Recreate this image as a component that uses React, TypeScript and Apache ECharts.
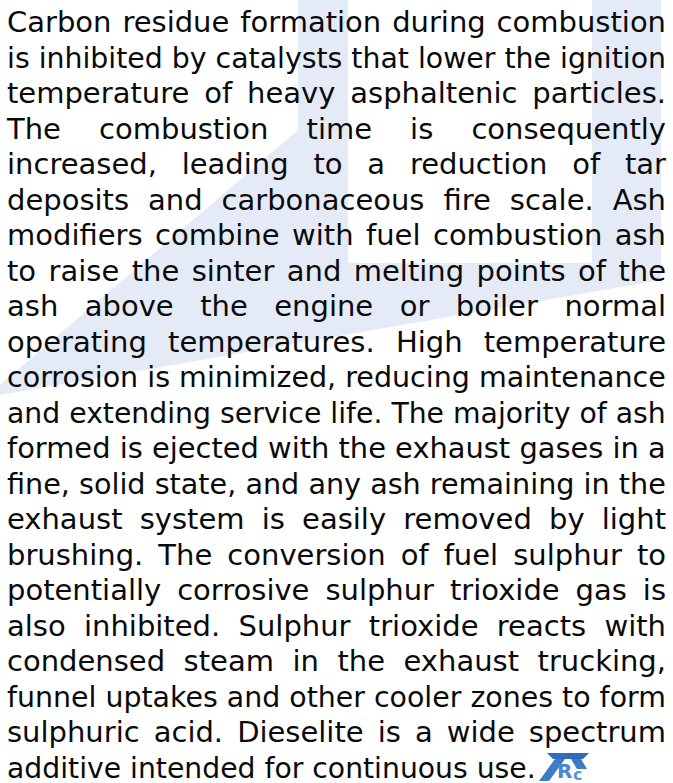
import React, { useEffect, useRef } from "react";
import * as echarts from "echarts";

const LINES: string[] = [
  "Carbon residue formation during combustion",
  "is inhibited by catalysts that lower the ignition",
  "temperature of heavy asphaltenic particles.",
  "The combustion time is consequently",
  "increased, leading to a reduction of tar",
  "deposits and carbonaceous fire scale. Ash",
  "modifiers combine with fuel combustion ash",
  "to raise the sinter and melting points of the",
  "ash above the engine or boiler normal",
  "operating temperatures. High temperature",
  "corrosion is minimized, reducing maintenance",
  "and extending service life. The majority of ash",
  "formed is ejected with the exhaust gases in a",
  "fine, solid state, and any ash remaining in the",
  "exhaust system is easily removed by light",
  "brushing. The conversion of fuel sulphur to",
  "potentially corrosive sulphur trioxide gas is",
  "also inhibited. Sulphur trioxide reacts with",
  "condensed steam in the exhaust trucking,",
  "funnel uptakes and other cooler zones to form",
  "sulphuric acid. Dieselite is a wide spectrum",
  "additive intended for continuous use.",
];

const W = 673;
const H = 783;
const FONT_SIZE = 29;
const FONT_FAMILY = "'DejaVu Sans', Verdana, sans-serif";
const LEFT = 7;
const RIGHT = 666;
const BASE0 = 32.5;
const PITCH = 35.5;
const LAST_LINE_RIGHT = 536;
const TEXT_COLOR = "#0a0a0a";
const WATERMARK = "#e4ebf6";

function measureFactory() {
  const c = document.createElement("canvas");
  const ctx = c.getContext("2d")!;
  ctx.font = `${FONT_SIZE}px ${FONT_FAMILY}`;
  return (s: string) => ctx.measureText(s).width;
}

function buildText(): any[] {
  const measure = measureFactory();
  const out: any[] = [];
  const spaceW = measure(" ");
  LINES.forEach((line, i) => {
    const cy = BASE0 + i * PITCH - FONT_SIZE * 0.35;
    const isLast = i === LINES.length - 1;
    const target = (isLast ? LAST_LINE_RIGHT : RIGHT) - LEFT;
    const words = line.split(" ");
    const wordW = words.map(measure);
    const sumW = wordW.reduce((a, b) => a + b, 0);
    const gaps = words.length - 1;
    const natural = sumW + gaps * spaceW;
    const baseStyle = {
      fill: TEXT_COLOR,
      font: `${FONT_SIZE}px ${FONT_FAMILY}`,
      verticalAlign: "middle",
      align: "left",
      lineHeight: FONT_SIZE - 2,
    };
    if (isLast || natural >= target || gaps === 0) {
      out.push({
        type: "text",
        x: LEFT,
        y: cy,
        scaleX: target / natural,
        style: { ...baseStyle, text: line, x: 0, y: 0 },
        silent: true,
      });
    } else {
      const gap = (target - sumW) / gaps;
      let x = LEFT;
      words.forEach((w, k) => {
        out.push({
          type: "text",
          x,
          y: cy,
          style: { ...baseStyle, text: w, x: 0, y: 0 },
          silent: true,
        });
        x += wordW[k] + gap;
      });
    }
  });
  return out;
}

function buildWatermark(): any[] {
  return [
    {
      type: "polygon",
      silent: true,
      z: -10,
      shape: {
        points: [
          [298, 0],
          [348, 0],
          [348, 263],
          [592, 263],
          [592, 0],
          [661, 0],
          [661, 280],
          [0, 395],
          [0, 385],
          [298, 130],
        ],
      },
      style: { fill: WATERMARK },
    },
  ];
}

function buildLogo(): any[] {
  return [
    {
      type: "group",
      x: 539,
      y: 753,
      children: [
        {
          type: "polygon",
          shape: { points: [[8, 0], [50, 0], [44, 6], [14, 6]] },
          style: { fill: "#2f6db8" },
        },
        {
          type: "polygon",
          shape: { points: [[16, 6], [26, 6], [10, 28], [0, 28]] },
          style: { fill: "#3a7cc6" },
        },
        {
          type: "polygon",
          shape: { points: [[32, 6], [42, 6], [48, 16], [38, 16]] },
          style: { fill: "#3a7cc6" },
        },
        {
          type: "text",
          x: 18,
          y: 8,
          style: {
            text: "R",
            fill: "#4a86cc",
            font: "bold 20px 'DejaVu Sans', sans-serif",
            align: "left",
            verticalAlign: "top",
          },
        },
        {
          type: "text",
          x: 34,
          y: 13,
          style: {
            text: "c",
            fill: "#5a94d4",
            font: "bold 16px 'DejaVu Sans', sans-serif",
            align: "left",
            verticalAlign: "top",
          },
        },
      ],
    },
  ];
}

export default function App() {
  const ref = useRef<HTMLDivElement>(null);
  useEffect(() => {
    document.body.style.margin = "0";
    if (!ref.current) return;
    const chart = echarts.init(ref.current, undefined, { renderer: "svg", width: W, height: H });
    chart.setOption({
      animation: false,
      backgroundColor: "#ffffff",
      graphic: { elements: [...buildWatermark(), ...buildText(), ...buildLogo()] },
    });
    return () => chart.dispose();
  }, []);
  return <div ref={ref} style={{ position: "fixed", left: 0, top: 0, width: W, height: H }} />;
}
